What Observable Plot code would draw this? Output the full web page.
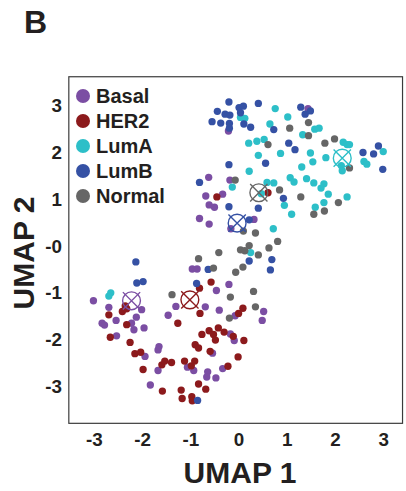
<!DOCTYPE html>
<html>
<head>
<meta charset="utf-8">
<script src="https://cdn.jsdelivr.net/npm/d3@7"></script>
<script src="https://cdn.jsdelivr.net/npm/@observablehq/plot@0.6"></script>
<style>
  html, body { margin: 0; padding: 0; background: #fff; }
  #wrap { position: relative; width: 406px; height: 491px; overflow: hidden;
          font-family: "Liberation Sans", Arial, sans-serif; font-weight: bold; color: #231f20; }
  #wrap svg { position: absolute; left: 0; top: 0; }
  .panel { position: absolute; left: 24px; top: 6px; font-size: 32px; line-height: 32px; }
  .legend { position: absolute; left: 76px; top: 83px; }
  .row { height: 25.2px; display: flex; align-items: center; font-size: 20px; line-height: 20px; }
  .sw { width: 14px; height: 14px; border-radius: 50%; margin-right: 6px; flex: none; }
  .xlab { position: absolute; left: 140px; width: 200px; top: 458px; text-align: center; font-size: 30px; line-height: 30px; }
  .ylab { position: absolute; left: -76px; width: 200px; top: 238px; height: 30px; text-align: center;
          font-size: 30px; line-height: 30px; transform: rotate(-90deg); }
</style>
</head>
<body>
<div id="wrap">
  <div class="panel">B</div>
</div>
<script>
const subtypes = ["Basal", "HER2", "LumA", "LumB", "Normal"];
const colors = ["#7b4ea3", "#8c1a1c", "#2dbfc8", "#3551a4", "#666666"];

const xTicks = [-3, -2, -1, 0, 1, 2, 3];
const xTickLabels = ["-3", "-2", "-1", "0", "1", "2", "3"];
const yTicks = [3, 2, 1, 0, -1, -2, -3];
const yTickLabels = ["3", "2", "1", "-0", "-1", "-2", "-3"];

const basal = [
  [-0.22,2.47],[-0.63,1.48],[-0.19,1.42],[1.43,2.95],[-0.69,1.08],[-0.34,1.12],[-0.62,0.89],[-0.51,0.84],
  [-0.82,0.60],[-0.62,0.48],[0.31,0.58],[-0.17,0.38],[-0.97,-0.48],[-0.87,-0.48],[-0.47,-0.94],[-0.21,-0.81],
  [-1.31,-1.28],[-0.70,-1.29],[-0.41,-1.36],[0.51,-1.39],[-3.02,-1.16],[-2.70,-1.30],[-2.02,-1.35],[-2.13,-1.51],
  [-1.47,-1.47],[-2.55,-1.58],[-2.84,-1.64],[-2.79,-1.68],[-2.23,-1.64],[-2.18,-1.78],[-1.97,-1.74],[-2.54,-1.91],
  [-1.66,-2.14],[-1.68,-2.21],[-1.95,-2.35],[-1.84,-2.96],[-1.68,-2.65],[-0.08,-1.48],[0.48,-1.58],[-1.07,-2.58],
  [-0.94,-2.65],[-0.65,-2.68],[-0.67,-2.79],[-0.48,-2.81],[-0.34,-2.61],[-0.55,-2.28],[-0.18,-1.87],[-0.10,-2.01]
];
const her2 = [
  [0.60,1.15],[-0.46,1.06],[-0.58,-0.76],[-0.82,-0.89],[0.08,-1.32],[-0.01,-1.43],[-0.81,-1.43],[-2.36,-1.27],
  [-2.42,-1.39],[-2.33,-1.33],[-2.70,-1.46],[-2.33,-1.67],[-1.27,-1.64],[-2.67,-1.94],[-2.26,-2.05],[-2.16,-2.29],
  [-2.04,-2.26],[-1.99,-2.63],[-1.60,-2.53],[-1.54,-2.45],[-1.40,-2.48],[-1.13,-2.45],[-1.59,-3.09],[-1.20,-3.07],
  [-1.18,-3.25],[-0.98,-3.21],[-0.97,-3.30],[-0.84,-2.94],[-0.69,-3.05],[-0.99,-2.55],[-0.92,-2.45],[-0.23,-2.56],
  [-0.02,-2.36],[-0.77,-1.88],[-0.62,-1.80],[-0.53,-1.88],[-0.49,-2.00],[-0.43,-1.74],[-0.31,-1.83],[-0.91,-2.10],
  [-0.84,-2.17],[-0.60,-2.24],[-0.12,-1.92],[0.10,-2.01]
];
const lumA = [
  [0.03,2.76],[0.12,2.74],[0.75,2.95],[1.01,2.77],[0.64,2.62],[0.20,2.21],[0.37,2.25],[0.52,2.29],
  [0.40,1.95],[0.86,1.99],[0.21,1.61],[1.06,1.47],[0.58,1.37],[0.72,1.36],[1.32,2.39],[1.57,2.51],
  [1.66,2.53],[1.48,2.00],[1.53,1.81],[1.80,1.90],[1.30,1.70],[2.16,2.23],[2.24,2.18],[2.29,2.18],
  [2.12,1.73],[2.14,1.62],[2.99,2.03],[2.59,1.82],[2.65,1.76],[1.14,1.38],[1.40,1.45],[1.55,1.36],
  [1.76,1.34],[1.70,1.25],[1.85,1.12],[2.24,1.06],[1.76,0.94],[0.94,0.88],[1.58,0.84],[1.09,0.69],
  [-0.14,1.27],[0.46,1.13],[0.71,0.38],[0.24,-0.13],[-2.66,-0.99],[-2.70,-1.06]
];
const lumB = [
  [-0.21,3.09],[-0.45,2.89],[-0.29,2.83],[-0.19,2.81],[0.00,2.97],[0.09,3.00],[0.03,2.86],[0.40,3.06],
  [-0.56,2.67],[-0.38,2.64],[-0.20,2.63],[-0.20,2.53],[0.10,2.62],[0.24,2.55],[0.72,2.50],[1.03,2.21],
  [1.16,2.07],[0.55,1.78],[-0.21,1.75],[-0.82,1.37],[1.28,2.98],[1.48,2.90],[1.37,2.83],[2.57,2.01],
  [2.79,1.98],[2.89,2.15],[2.98,1.65],[0.92,1.03],[-0.21,0.85],[0.40,0.82],[0.21,0.57],[0.68,-0.28],
  [0.65,-0.50],[0.21,-0.31],[-0.64,-0.49],[-0.88,-0.79],[-2.14,-0.33],[-2.12,-0.78],[-1.99,-0.75],[-0.86,-3.29]
];
const normal = [
  [1.05,2.53],[0.60,2.18],[-0.08,1.42],[1.44,2.65],[1.44,2.37],[1.78,2.21],[1.98,2.30],[2.29,1.68],
  [0.84,1.21],[1.28,1.06],[2.06,0.94],[1.77,0.76],[1.55,0.69],[0.09,0.33],[0.34,0.29],[0.80,0.11],
  [0.62,-0.03],[0.21,0.02],[0.03,-0.07],[0.12,-0.09],[0.40,-0.18],[0.08,-0.44],[-0.07,-0.55],[-0.42,-0.13],
  [-0.84,-0.26],[-0.53,-0.46],[0.30,-0.96],[-1.39,-1.03],[-0.18,-1.08],[0.34,-1.29],[-0.20,-1.53]
];
const centroids = [[-2.23,-1.16],[-1.02,-1.14],[2.14,1.89],[-0.04,0.50],[0.41,1.15]];

const groups = [basal, her2, lumA, lumB, normal];
const points = groups.flatMap((g, i) => g.map(([x, y]) => ({x, y, subtype: subtypes[i]})));
const cents = centroids.map(([x, y], i) => ({x, y, subtype: subtypes[i]}));
const xFmt = new Map(xTicks.map((t, i) => [t, xTickLabels[i]]));
const yFmt = new Map(yTicks.map((t, i) => [t, yTickLabels[i]]));

const chart = Plot.plot({
  width: 410, height: 491,
  marginLeft: 69, marginRight: 4, marginTop: 77, marginBottom: 64,
  style: {fontFamily: "'Liberation Sans', Arial, sans-serif", fontWeight: "bold", fontSize: "19px", color: "#231f20", background: "transparent"},
  x: {domain: [-3.53, 3.39], ticks: xTicks, tickFormat: d => xFmt.get(d), tickSize: 0, tickPadding: 9, label: null},
  y: {domain: [-3.78, 3.63], ticks: yTicks, tickFormat: d => yFmt.get(d), tickSize: 0, tickPadding: 7, label: null},
  color: {domain: subtypes, range: colors},
  marks: [
    Plot.frame({stroke: "#3a3a3a", strokeWidth: 1.2}),
    Plot.dot(points, {x: "x", y: "y", fill: "subtype", r: 3.7}),
    Plot.dot(cents, {x: "x", y: "y", stroke: "subtype", fill: "none", r: 9, strokeWidth: 1.4}),
    Plot.dot(cents, {x: "x", y: "y", stroke: "subtype", symbol: "times", r: 8, strokeWidth: 1.4})
  ]
});
const wrap = document.getElementById("wrap");
wrap.appendChild(chart);

const legend = document.createElement("div");
legend.className = "legend";
subtypes.forEach((s, i) => {
  const row = document.createElement("div");
  row.className = "row";
  const sw = document.createElement("span");
  sw.className = "sw";
  sw.style.background = colors[i];
  row.appendChild(sw);
  row.appendChild(document.createTextNode(s));
  legend.appendChild(row);
});
wrap.appendChild(legend);

const xl = document.createElement("div");
xl.className = "xlab"; xl.textContent = "UMAP 1";
wrap.appendChild(xl);
const yl = document.createElement("div");
yl.className = "ylab"; yl.textContent = "UMAP 2";
wrap.appendChild(yl);
</script>
</body>
</html>
